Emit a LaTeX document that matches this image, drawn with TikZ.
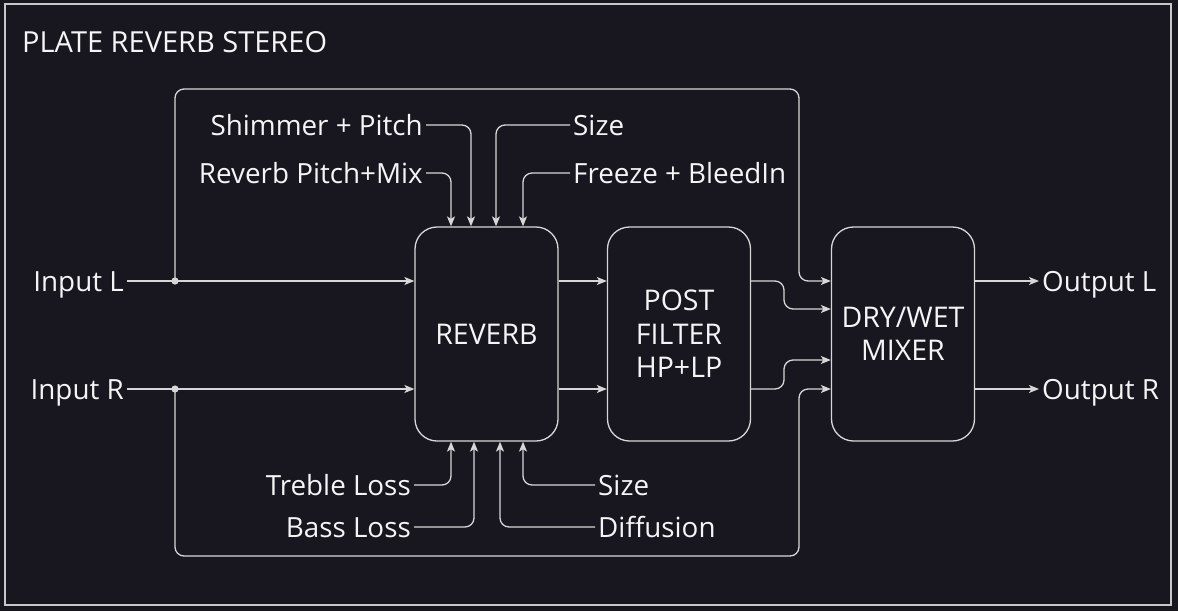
\documentclass[tikz,border=0pt]{standalone}
\usepackage{fontspec}
\setmainfont{Open Sans}
\usetikzlibrary{arrows.meta}
\definecolor{bg}{RGB}{24,22,31}
\definecolor{ln}{RGB}{215,215,215}
\definecolor{tx}{RGB}{245,245,245}
\definecolor{fr}{RGB}{200,200,200}
\tikzset{
  lbl/.style={text=tx, font=\fontsize{27.8}{30}\selectfont, inner xsep=3pt, inner ysep=0pt, text height=20pt, text depth=0pt},
  blk/.style={draw=ln, line width=1.3pt, fill=bg, rounded corners=22pt, minimum width=143pt, minimum height=214pt,
     text=tx, align=center, font=\fontsize{28.5}{33.5}\selectfont},
  conn/.style={draw=ln, line width=1.3pt, rounded corners=9pt},
  arr/.style={conn, -{Stealth[length=10pt,width=8pt,inset=2.5pt]}},
}
\begin{document}
\begin{tikzpicture}[x=1pt,y=-1pt]
\useasboundingbox (0,0) rectangle (1178,611);
\fill[bg] (0,0) rectangle (1178,611);
\draw[fr, line width=2.2pt] (5,4) rectangle (1171,605);
\node[lbl, anchor=west, inner xsep=0pt, font=\fontsize{29}{30}\selectfont] (title) at (22,42) {PLATE REVERB STEREO};

% blocks
\node[blk] (rev) at (486.5,334) {REVERB};
\node[blk] (post) at (679,334) {POST\\FILTER\\HP+LP};
\node[blk] (mix) at (903,334) {DRY/WET\\MIXER};

% inputs / outputs
\node[lbl, anchor=east] (inL) at (127,281) {Input L};
\node[lbl, anchor=east] (inR) at (127,389) {Input R};
\node[lbl, anchor=west] (outL) at (1039,281) {Output L};
\node[lbl, anchor=west] (outR) at (1039,389) {Output R};

\coordinate (dL) at (175,281);
\coordinate (dR) at (175,389);
\coordinate (busX) at (799,0);
\coordinate (topY) at (0,89);
\coordinate (botY) at (0,556);
\coordinate (jogX) at (784,0);
\coordinate (m1) at (0,309);
\coordinate (m2) at (0,360);

\draw[arr] (inL.east) -- (inL.east -| rev.west);
\draw[arr] (inR.east) -- (inR.east -| rev.west);
\fill[ln] (dL) circle (3.6);
\fill[ln] (dR) circle (3.6);

% dry bypass
\draw[arr] (dL) |- (busX |- topY) |- (mix.west |- dL);
\draw[arr] (dR) |- (busX |- botY) |- (mix.west |- dR);

% reverb -> post
\draw[arr] (rev.east |- dL) -- (post.west |- dL);
\draw[arr] (rev.east |- dR) -- (post.west |- dR);

% post -> mixer
\draw[arr] (post.east |- dL) -| (jogX |- m1) -- (mix.west |- m1);
\draw[arr] (post.east |- dR) -| (jogX |- m2) -- (mix.west |- m2);

% mixer -> outputs
\draw[arr] (mix.east |- outL) -- (outL.west);
\draw[arr] (mix.east |- outR) -- (outR.west);

% top controls
\node[lbl, anchor=east] (shim) at (426,125) {Shimmer + Pitch};
\node[lbl, anchor=east] (rpm) at (426,173) {Reverb Pitch+Mix};
\node[lbl, anchor=west] (tsize) at (570,125) {Size};
\node[lbl, anchor=west] (frz) at (570,173) {Freeze + BleedIn};
\coordinate (c1) at (451,0);
\coordinate (c2) at (471,0);
\coordinate (c3) at (496,0);
\coordinate (c4) at (523,0);
\draw[arr] (rpm.east) -| (rev.north -| c1);
\draw[arr] (shim.east) -| (rev.north -| c2);
\draw[arr] (tsize.west) -| (rev.north -| c3);
\draw[arr] (frz.west) -| (rev.north -| c4);

% bottom controls
\node[lbl, anchor=east] (treb) at (414,485) {Treble Loss};
\node[lbl, anchor=east] (bass) at (414,527) {Bass Loss};
\node[lbl, anchor=west] (bsize) at (595,485) {Size};
\node[lbl, anchor=west] (diff) at (595,527) {Diffusion};
\coordinate (b1) at (451,0);
\coordinate (b2) at (474,0);
\coordinate (b3) at (500,0);
\coordinate (b4) at (523,0);
\draw[arr] (treb.east) -| (rev.south -| b1);
\draw[arr] (bass.east) -| (rev.south -| b2);
\draw[arr] (diff.west) -| (rev.south -| b3);
\draw[arr] (bsize.west) -| (rev.south -| b4);
\end{tikzpicture}
\end{document}
